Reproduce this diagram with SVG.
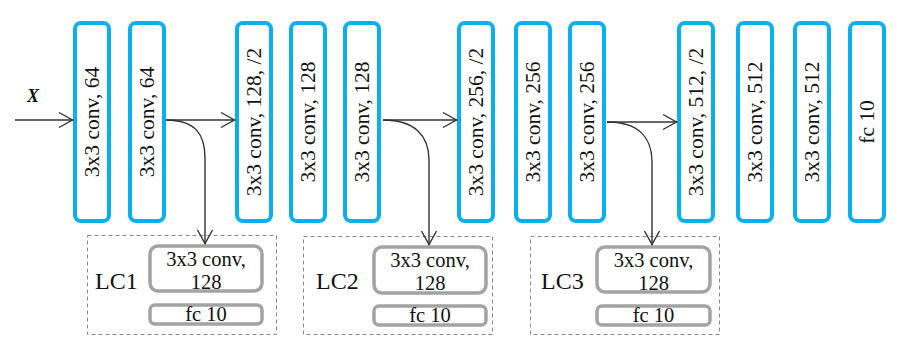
<svg xmlns="http://www.w3.org/2000/svg" width="910" height="354" viewBox="0 0 910 354">
  <defs>
    <marker id="arr" viewBox="-16 -10 18 20" refX="0" refY="0" markerWidth="18" markerHeight="20" markerUnits="userSpaceOnUse" orient="auto">
      <path d="M-14,-7.5 L-0.5,0 L-14,7.5" fill="none" stroke="#333" stroke-width="1.4"/>
    </marker>
    <style>
      .layer rect { fill: #fff; stroke: #0AB0EE; stroke-width: 4; }
      .layer text { font-family: "Liberation Serif", "Times New Roman", serif; font-size: 21.5px; fill: #111; text-anchor: middle; }
      .head rect.box { fill: #fff; stroke: #A3A3A3; stroke-width: 3.5; }
      .head text.in { font-family: "Liberation Serif", "Times New Roman", serif; font-size: 20.5px; fill: #111; text-anchor: middle; }
      .head rect.frame { fill: none; stroke: #888; stroke-width: 1; stroke-dasharray: 4 3; }
      .head text.lc { font-family: "Liberation Serif", "Times New Roman", serif; font-size: 24px; fill: #111; }
      .wire { fill: none; stroke: #333; stroke-width: 1.4; marker-end: url(#arr); }
    </style>
  </defs>
  <rect width="910" height="354" fill="#fff"/>

  <!-- input label -->
  <text x="27" y="102" font-family="Liberation Serif, serif" font-style="italic" font-weight="bold" font-size="18" fill="#111">X</text>

  <!-- backbone layers -->
  <g id="conv1" class="layer"><rect x="75" y="23" width="34" height="198" rx="6"/><text transform="translate(92,122) rotate(-90)" y="7">3x3 conv, 64</text></g>
  <g id="conv2" class="layer"><rect x="130" y="23" width="34" height="198" rx="6"/><text transform="translate(147,122) rotate(-90)" y="7">3x3 conv, 64</text></g>
  <g id="conv3" class="layer"><rect x="237" y="23" width="34" height="198" rx="6"/><text transform="translate(254,122) rotate(-90)" y="7">3x3 conv, 128, /2</text></g>
  <g id="conv4" class="layer"><rect x="291" y="23" width="34" height="198" rx="6"/><text transform="translate(308,122) rotate(-90)" y="7">3x3 conv, 128</text></g>
  <g id="conv5" class="layer"><rect x="345" y="23" width="34" height="198" rx="6"/><text transform="translate(362,122) rotate(-90)" y="7">3x3 conv, 128</text></g>
  <g id="conv6" class="layer"><rect x="459" y="23" width="34" height="198" rx="6"/><text transform="translate(476,122) rotate(-90)" y="7">3x3 conv, 256, /2</text></g>
  <g id="conv7" class="layer"><rect x="516" y="23" width="34" height="198" rx="6"/><text transform="translate(533,122) rotate(-90)" y="7">3x3 conv, 256</text></g>
  <g id="conv8" class="layer"><rect x="570" y="23" width="34" height="198" rx="6"/><text transform="translate(587,122) rotate(-90)" y="7">3x3 conv, 256</text></g>
  <g id="conv9" class="layer"><rect x="679" y="23" width="34" height="198" rx="6"/><text transform="translate(696,122) rotate(-90)" y="7">3x3 conv, 512, /2</text></g>
  <g id="conv10" class="layer"><rect x="738" y="23" width="34" height="198" rx="6"/><text transform="translate(755,122) rotate(-90)" y="7">3x3 conv, 512</text></g>
  <g id="conv11" class="layer"><rect x="795" y="23" width="34" height="198" rx="6"/><text transform="translate(812,122) rotate(-90)" y="7">3x3 conv, 512</text></g>
  <g id="fc" class="layer"><rect x="850" y="23" width="34" height="198" rx="6"/><text transform="translate(867,122) rotate(-90)" y="7">fc 10</text></g>

  <!-- auxiliary classifier heads -->
  <g id="lc1" class="head">
    <rect class="frame" x="87.5" y="235.5" width="189" height="99"/>
    <text class="lc" x="95" y="289">LC1</text>
    <rect class="box" x="150" y="246" width="112" height="45" rx="8"/>
    <text class="in" x="206" y="266">3x3 conv,</text>
    <text class="in" x="206" y="289">128</text>
    <rect class="box" x="150" y="305" width="112" height="19" rx="5"/>
    <text class="in" x="206" y="321">fc 10</text>
  </g>
  <g id="lc2" class="head">
    <rect class="frame" x="303.5" y="236.5" width="189" height="98"/>
    <text class="lc" x="316" y="289">LC2</text>
    <rect class="box" x="374" y="247" width="112" height="46" rx="8"/>
    <text class="in" x="430" y="267">3x3 conv,</text>
    <text class="in" x="430" y="290">128</text>
    <rect class="box" x="374" y="306" width="112" height="19" rx="5"/>
    <text class="in" x="430" y="322">fc 10</text>
  </g>
  <g id="lc3" class="head">
    <rect class="frame" x="530.5" y="236.5" width="189" height="98"/>
    <text class="lc" x="541" y="289">LC3</text>
    <rect class="box" x="597" y="247" width="113" height="45" rx="8"/>
    <text class="in" x="653.5" y="267">3x3 conv,</text>
    <text class="in" x="653.5" y="290">128</text>
    <rect class="box" x="597" y="306" width="113" height="19" rx="5"/>
    <text class="in" x="653.5" y="322">fc 10</text>
  </g>

  <!-- connectors -->
  <g id="connectors">
    <path class="wire" d="M15,120 H73"/>
    <path class="wire" d="M166,120 H235"/>
    <path class="wire" d="M166,120 C196,120 205,135 205,158 V244"/>
    <path class="wire" d="M383,120 H457"/>
    <path class="wire" d="M383,120 C415,120 429,136 429,160 V245"/>
    <path class="wire" d="M607,122 H677"/>
    <path class="wire" d="M607,122 C639,122 652,138 652,162 V245"/>
  </g>
</svg>
